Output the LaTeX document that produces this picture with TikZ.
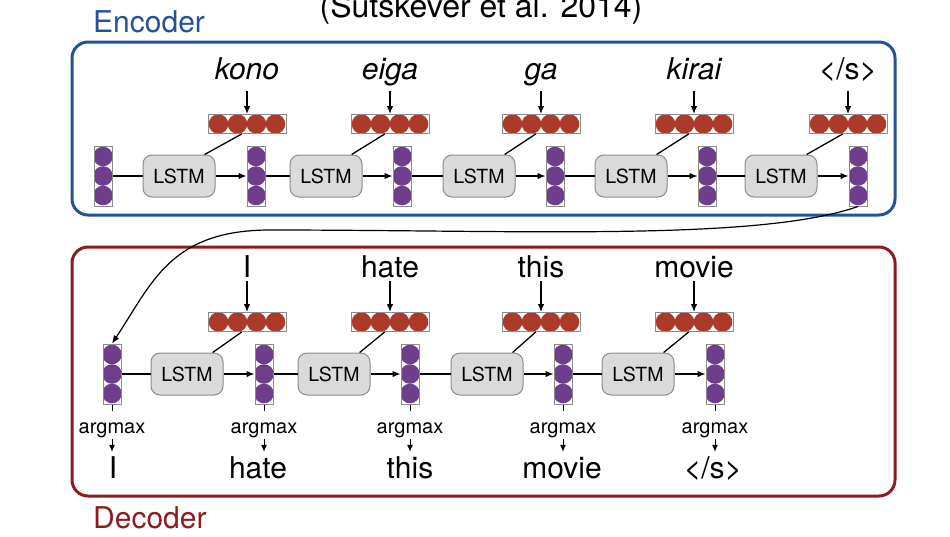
\documentclass[tikz,border=0pt]{standalone}
\usepackage{fontspec}
\setmainfont{TeX Gyre Heros}
\usetikzlibrary{arrows.meta,calc}
\definecolor{encblue}{RGB}{35,82,150}
\definecolor{decred}{RGB}{140,28,30}
\definecolor{hidpurple}{RGB}{110,62,140}
\definecolor{embred}{RGB}{172,58,40}
\definecolor{cellgray}{RGB}{218,218,218}
\definecolor{rimgray}{RGB}{140,140,140}

\begin{document}
\begin{tikzpicture}[x=1pt, y=-1pt,
   hid/.style={draw=rimgray, line width=1pt, minimum width=18pt, minimum height=60pt, inner sep=0pt,
      path picture={\foreach \k in {-19.5,0,19.5}
         \fill[hidpurple] ($(path picture bounding box.center)+(0,\k)$) circle (9.8);}},
   emb/.style={draw=rimgray, line width=1pt, minimum width=78pt, minimum height=19pt, inner sep=0pt,
      path picture={\foreach \k in {-28.5,-9.5,9.5,28.5}
         \fill[embred] ($(path picture bounding box.center)+(\k,0)$) circle (9.8);}},
   cell/.style={draw=rimgray, fill=cellgray, line width=1pt, rounded corners=9pt,
      minimum width=72pt, minimum height=42pt, font=\fontsize{19.5}{22}\selectfont},
   inword/.style={font=\fontsize{30}{34}\selectfont\itshape, anchor=base, text depth=10pt, inner sep=2pt},
   decword/.style={font=\fontsize{30}{34}\selectfont, anchor=base, text depth=2pt, inner sep=2pt},
   argm/.style={font=\fontsize{20}{23}\selectfont, anchor=base, text height=21pt, inner sep=1pt},
   outword/.style={font=\fontsize{30}{34}\selectfont, anchor=base, text height=25pt, inner sep=1pt},
   boxlabel/.style={font=\fontsize{30}{34}\selectfont, anchor=base west, inner sep=0pt},
   ln/.style={line width=1.3pt},
   arr/.style={line width=1.3pt, -{Latex[length=8pt,width=6.5pt]}},
   tinyarr/.style={line width=1pt, -{Latex[length=7pt,width=6pt]}},
   frame/.style={line width=3pt, rounded corners=16pt}]

\useasboundingbox (0,0) rectangle (950,536);

\node[font=\fontsize{32}{36}\selectfont, anchor=base] (cite) at (481,17) {(Sutskever et al. 2014)};

% encoder
\draw[frame, encblue] (72,42) rectangle (895,215);
\node[boxlabel, text=encblue] (enclabel) at (93,32) {Encoder};

\foreach \x [count=\i] in {103,256,402,555,707,858}
   \node[hid] (e\i) at (\x,176) {};
\foreach \x [count=\i] in {179,326,479,631,781}
   \node[cell] (el\i) at (\x,176) {LSTM};
\foreach \x/\w [count=\i] in {247/kono,390/eiga,541/ga,694/kirai,848/{\upshape </s>}} {
   \node[emb] (eb\i) at (\x,124) {};
   \node[inword] (ew\i) at (\x,79) {\w};
   \draw[arr] (ew\i.south) -- (eb\i.north);
   \draw[ln] (el\i.40) -- (eb\i.-118);
}
\foreach \i [evaluate=\i as \j using int(\i+1)] in {1,...,5} {
   \draw[ln] (e\i.east) -- (el\i.west);
   \draw[arr] (el\i.east) -- (e\j.west);
}

% decoder
\draw[frame, decred] (72,247) rectangle (895,496);
\node[boxlabel, text=decred] (declabel) at (93,528) {Decoder};

\foreach \x [count=\i] in {112,264,410,563,715} {
   \node[hid] (d\i) at (\x,374) {};
   \node[argm] (ag\i) at (\x,433) {argmax};
   \draw[ln, line width=1pt] (d\i.south) -- (ag\i.north);
}
\foreach \o/\w [count=\i] in {113/I,258/hate,410/this,562/movie,713/{</s>}} {
   \node[outword] (do\i) at (\o,478) {\w};
   \draw[tinyarr] (ag\i.south) -- (ag\i.south |- do\i.north);
}
\foreach \x [count=\i] in {187,334,487,638}
   \node[cell] (dl\i) at (\x,374) {LSTM};
\foreach \x/\w [count=\i] in {247/I,390/hate,541/this,694/movie} {
   \node[emb] (db\i) at (\x,322) {};
   \node[decword] (dw\i) at (\x,277) {\w};
   \draw[arr] (dw\i.south) -- (db\i.north);
   \draw[ln] (dl\i.40) -- (db\i.-118);
}
\foreach \i [evaluate=\i as \j using int(\i+1)] in {1,...,4} {
   \draw[ln] (d\i.east) -- (dl\i.west);
   \draw[arr] (dl\i.east) -- (d\j.west);
}

% hand-over from encoder to decoder
\coordinate (bend) at (270,230);
\draw[arr, line width=1.2pt] (e6.south) .. controls +(-100,35) and +(250,0) .. (bend)
   .. controls +(-100,0) and +(40,-60) .. (d1.north);

\end{tikzpicture}
\end{document}
